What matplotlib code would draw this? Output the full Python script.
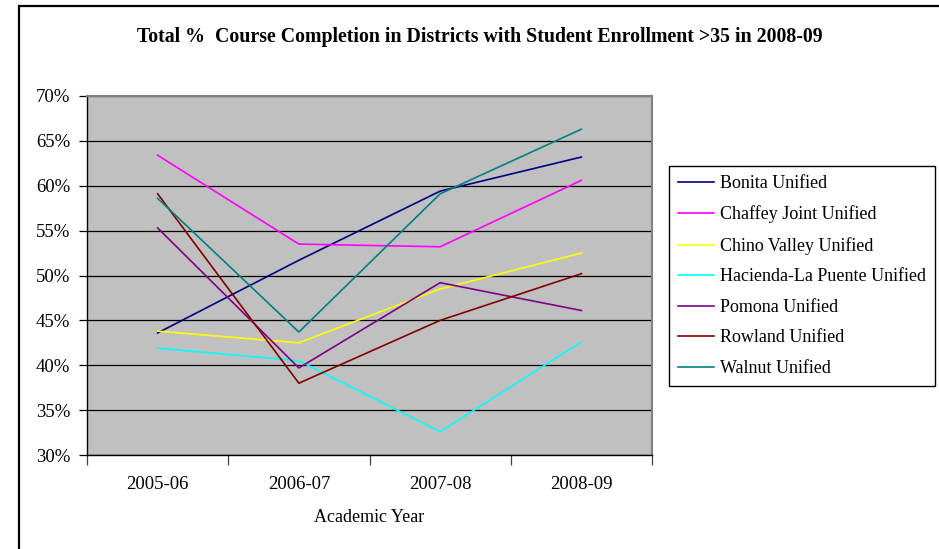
import matplotlib
matplotlib.use("Agg")
import matplotlib.pyplot as plt
from matplotlib.patches import Rectangle
from matplotlib.ticker import FuncFormatter, FixedLocator

years = ["2005-06", "2006-07", "2007-08", "2008-09"]
bonita = [43.6, 51.7, 59.4, 63.2]
chaffey = [63.4, 53.5, 53.2, 60.6]
chino = [43.8, 42.5, 48.5, 52.5]
hacienda = [41.9, 40.5, 32.6, 42.6]
pomona = [55.3, 39.7, 49.2, 46.1]
rowland = [59.1, 38.0, 45.0, 50.2]
walnut = [58.6, 43.7, 59.1, 66.3]

series = [
    ("Bonita Unified", bonita, "#000080"),
    ("Chaffey Joint Unified", chaffey, "#FF00FF"),
    ("Chino Valley Unified", chino, "#FFFF00"),
    ("Hacienda-La Puente Unified", hacienda, "#00FFFF"),
    ("Pomona Unified", pomona, "#800080"),
    ("Rowland Unified", rowland, "#800000"),
    ("Walnut Unified", walnut, "#008080"),
]

plt.rcParams['font.family'] = ['Liberation Serif', 'DejaVu Serif']

W, H = 939, 549
fig = plt.figure(figsize=(W / 100, H / 100), dpi=100)

# outer chart border (left and top visible)
fig.patches.append(Rectangle((19 / W, -0.1), 1.2, 1 - 6 / H + 0.1, transform=fig.transFigure,
                             fill=False, edgecolor="black", linewidth=1.6, zorder=0))

L, R, T, B = 87, 652, 96, 455
ax = fig.add_axes([L / W, 1 - B / H, (R - L) / W, (B - T) / H])
ax.set_facecolor("#C0C0C0")

x = list(range(1, len(years) + 1))
for name, vals, col in series:
    ax.plot(x, vals, color=col, linewidth=1.2, label=name, zorder=3)

ax.set_xlim(0.5, len(years) + 0.5)
ax.set_ylim(30, 70)
ax.set_yticks(range(30, 71, 5))
ax.yaxis.set_major_formatter(FuncFormatter(lambda v, p: f"{int(v)}%"))
ax.grid(axis="y", color="black", linewidth=0.9, zorder=1)
ax.set_axisbelow(True)

# x ticks at category boundaries, labels at centers
ax.xaxis.set_major_locator(FixedLocator([i + 0.5 for i in range(0, len(years) + 1)]))
ax.xaxis.set_minor_locator(FixedLocator(x))
ax.set_xticklabels([])
ax.xaxis.set_minor_formatter(FuncFormatter(lambda v, p: years[int(round(v)) - 1]))
ax.tick_params(axis="x", which="major", direction="out", length=7, width=0.9, color="#404040")
ax.tick_params(axis="x", which="minor", length=0, pad=15, labelsize=13.5)
ax.tick_params(axis="y", direction="out", length=6, width=0.9, pad=6, labelsize=13.5)

for s in ["top", "right"]:
    ax.spines[s].set_color("#808080")
    ax.spines[s].set_linewidth(1.5)
for s in ["left", "bottom"]:
    ax.spines[s].set_color("black")
    ax.spines[s].set_linewidth(1.0)

ax.set_xlabel("Academic Year", fontsize=13, labelpad=12)

fig.text(480 / W, 1 - 37 / H, "Total %  Course Completion in Districts with Student Enrollment >35 in 2008-09",
         ha="center", va="center", fontsize=14.3, fontweight="bold")

leg = fig.legend(loc="upper left", bbox_to_anchor=(669 / W, 1 - 166 / H), fontsize=13,
                 frameon=True, fancybox=False, edgecolor="black", framealpha=1,
                 handlelength=2.0, handletextpad=0.33, labelspacing=0.75,
                 borderpad=0.5, borderaxespad=0)
leg.get_frame().set_linewidth(1.0)

fig.savefig("out.png", dpi=100)
